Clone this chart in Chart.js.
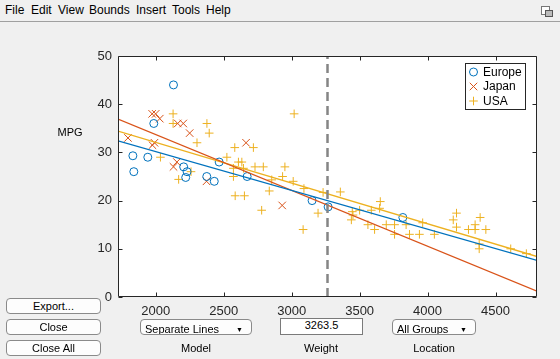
<!DOCTYPE html>
<html>
<head>
<meta charset="utf-8">
<script src="https://cdn.jsdelivr.net/npm/chart.js@4.4.1/dist/chart.umd.min.js"></script>
<style>
    body { margin: 0; width: 560px; height: 359px; overflow: hidden; position: relative;
        background: #f0f0f0; font-family: "Liberation Sans", Arial, sans-serif; color: #000; }
    #menu { position: absolute; left: 0; top: 0; width: 560px; height: 21px; border-bottom: 1px solid #a0a0a0; font-size: 12px; }
    #menu span { position: absolute; top: 3px; }
    #icon { position: absolute; left: 541px; top: 6px; width: 7px; height: 7px; border: 1px solid #777; background: #fff; }
    #icon2 { position: absolute; left: 545px; top: 10px; width: 6px; height: 5px; border: 1px solid #555; background: #bbb; }
    #plot { position: absolute; left: 0; top: 0; width: 560px; height: 359px; }
    .lbl { position: absolute; font-size: 11px; text-align: center; }
    .btn { position: absolute; box-sizing: border-box; border: 1px solid #8a8a8a; border-radius: 4px;
        background: #fdfdfd; font-size: 11px; text-align: center; line-height: 14px; }
    .pop { position: absolute; box-sizing: border-box; border: 1px solid #8a8a8a; border-radius: 4px;
        background: #fdfdfd; font-size: 11px; line-height: 19px; padding-left: 4px; overflow: hidden; }
    .pop i { position: absolute; right: 8px; top: 0; font-style: normal; font-size: 7px; }
    .edit { position: absolute; box-sizing: border-box; border: 1px solid #7a7a7a; background: #fff;
        font-size: 11px; text-align: center; line-height: 13px; }
</style>
</head>
<body>
<div id="menu">
    <span style="left:5px">File</span>
    <span style="left:31px">Edit</span>
    <span style="left:58px">View</span>
    <span style="left:89px">Bounds</span>
    <span style="left:136px">Insert</span>
    <span style="left:172px">Tools</span>
    <span style="left:206px">Help</span>
    <div id="icon"></div><div id="icon2"></div>
</div>
<div id="plot"><canvas id="aocChart"></canvas></div>
<div class="lbl" style="left:50px;top:126px;width:40px">MPG</div>

<div class="btn" style="left:6px;top:298px;width:95px;height:16px">Export...</div>
<div class="btn" style="left:6px;top:319px;width:95px;height:16px">Close</div>
<div class="btn" style="left:6px;top:340px;width:95px;height:16px">Close All</div>

<div class="pop" style="left:140px;top:319px;width:112px;height:16px">Separate Lines<i>&#9660;</i></div>
<div class="edit" style="left:280px;top:318px;width:83px;height:17px">3263.5</div>
<div class="pop" style="left:392px;top:319px;width:84px;height:16px">All Groups<i>&#9660;</i></div>

<div class="lbl" style="left:166px;top:342px;width:60px">Model</div>
<div class="lbl" style="left:291px;top:342px;width:60px">Weight</div>
<div class="lbl" style="left:404px;top:342px;width:60px">Location</div>

<script>
    // данные
    const groupNames = ['Europe', 'Japan', 'USA'];
    const groupColors = ['#0072BD', '#D95319', '#EDB120'];

    const europeWeight = [2130, 1985, 1831, 1941, 1838, 2205, 2230, 2220, 2375, 2430, 2466, 2672, 3150, 3268, 3818];
    const europeMPG = [44, 36, 29.3, 29, 26, 27, 26, 24.8, 25, 24, 28, 25, 20, 18.7, 16.5];

    const japanWeight = [1795, 1975, 1990, 1973, 1999, 2029, 2161, 2202, 2249, 2664, 2130, 2155, 2373, 2930];
    const japanMPG = [33, 31.5, 32, 38, 38, 37, 36, 36, 34, 32, 27, 28, 24, 19];

    const usaWeight = [2127, 2127, 2376, 2393, 2303, 2581, 2718, 3018, 2034, 2168, 2259, 2523, 2608, 2633,
        2571, 2645, 2730, 2791, 2950, 2571, 2853, 2933, 3011, 2835, 3090, 3231, 2584, 2652, 2779, 3084,
        3194, 3358, 3652, 3446, 3500, 3439, 3451, 3586, 3647, 3561, 3610, 3696, 3757, 3757, 3842, 3867,
        3940, 3964, 4050, 4213, 4189, 4213, 4301, 4350, 4350, 4387, 4429, 4380, 4380, 4612, 4727];
    const usaMPG = [38, 36, 36, 34, 32, 31, 31, 38, 29, 24.4, 26, 29, 28, 28,
        26.7, 26.7, 27, 27, 27, 25, 24.3, 25, 24, 22, 22.5, 21.7, 21, 21, 18, 14,
        17.4, 21.8, 19.8, 17.7, 18, 16, 17, 18, 18.4, 15, 14, 15, 15, 13, 15, 13,
        13, 15.4, 13, 17.4, 16, 14.5, 14, 15, 14, 16.5, 14, 11, 10, 10, 9];

    // подогнанные прямые: MPG на краях оси Weight
    const weightLimits = [1721.6, 4805.4];
    const europeFit = [32.4, 7.6];
    const japanFit = [36.9, 1.2];
    const usaFit = [34.4, 8.4];

    const refWeight = 3263.5;
    const mpgLimits = [0, 50];
    const xTicks = [2000, 2500, 3000, 3500, 4000, 4500];
    const yTicks = [0, 10, 20, 30, 40, 50];

    const toPoints = (xs, ys) => xs.map((x, i) => ({x: x, y: ys[i]}));

    const tickColor = '#262626';

    // рамка осей и внутренние засечки
    const axesFrame = {
        id: 'axesFrame',
        afterDatasetsDraw(chart) {
            const {ctx, chartArea: a, scales: {x, y}} = chart;
            const l = Math.round(a.left) + 0.5, r = Math.round(a.right) - 0.5;
            const t = Math.round(a.top) + 0.5, b = Math.round(a.bottom) - 0.5;
            ctx.save();
            ctx.strokeStyle = tickColor;
            ctx.lineWidth = 1;
            ctx.beginPath();
            ctx.rect(l, t, r - l, b - t);
            xTicks.forEach(v => {
                const px = Math.round(x.getPixelForValue(v)) + 0.5;
                ctx.moveTo(px, b); ctx.lineTo(px, b - 4);
                ctx.moveTo(px, t); ctx.lineTo(px, t + 4);
            });
            yTicks.forEach(v => {
                const py = Math.round(y.getPixelForValue(v)) + 0.5;
                ctx.moveTo(l, py); ctx.lineTo(l + 4, py);
                ctx.moveTo(r, py); ctx.lineTo(r - 4, py);
            });
            ctx.stroke();
            ctx.restore();
        }
    };

    // легенда внутри области графика
    const legendInside = {
        id: 'legendInside',
        afterDraw(chart) {
            const {ctx, chartArea: a} = chart;
            const sets = chart.data.datasets.filter(d => d.inLegend);
            const w = 60, h = 46, rowH = 14.5;
            const x0 = Math.round(a.right - 12 - w), y0 = Math.round(a.top + 7);
            ctx.save();
            ctx.fillStyle = '#fff';
            ctx.fillRect(x0, y0, w, h);
            ctx.strokeStyle = tickColor;
            ctx.lineWidth = 1;
            ctx.strokeRect(x0 + 0.5, y0 + 0.5, w, h);
            ctx.font = '12px "Liberation Sans", Arial, sans-serif';
            ctx.textBaseline = 'middle';
            sets.forEach((ds, i) => {
                const cy = y0 + 9 + i * rowH;
                ctx.strokeStyle = ds.borderColor;
                ctx.fillStyle = 'rgba(0,0,0,0)';
                ctx.lineWidth = ds.pointBorderWidth;
                Chart.helpers.drawPoint(ctx, {
                    pointStyle: ds.pointStyle,
                    radius: ds.pointRadius,
                    borderWidth: ds.pointBorderWidth,
                    rotation: 0
                }, x0 + 8.5, cy);
                ctx.fillStyle = '#000';
                ctx.fillText(ds.label, x0 + 18, cy + 0.5);
            });
            ctx.restore();
        }
    };

    const pointStyles = ['circle', 'crossRot', 'cross'];
    const pointSizes = [4, 5.3, 4.3];
    const scatterData = [
        toPoints(europeWeight, europeMPG),
        toPoints(japanWeight, japanMPG),
        toPoints(usaWeight, usaMPG)
    ];
    const fits = [europeFit, japanFit, usaFit];

    const datasets = [];
    groupNames.forEach((name, i) => {
        datasets.push({
            label: name,
            inLegend: true,
            data: scatterData[i],
            showLine: false,
            pointStyle: pointStyles[i],
            pointRadius: pointSizes[i],
            pointHoverRadius: pointSizes[i],
            pointBorderWidth: 1,
            borderColor: groupColors[i],
            backgroundColor: 'rgba(0,0,0,0)',
            order: 5
        });
    });
    groupNames.forEach((name, i) => {
        datasets.push({
            label: name + ' fit',
            data: toPoints(weightLimits, fits[i]),
            showLine: true,
            pointRadius: 0,
            borderWidth: 1.3,
            borderColor: groupColors[i],
            order: 3
        });
    });
    datasets.push({
        label: 'Weight',
        data: toPoints([refWeight, refWeight], mpgLimits),
        showLine: true,
        pointRadius: 0,
        borderWidth: 2.5,
        borderColor: '#858585',
        borderDash: [9, 5],
        order: 1
    });

    Chart.defaults.font.family = '"Liberation Sans", Arial, sans-serif';
    Chart.defaults.font.size = 13;
    Chart.defaults.color = tickColor;

    new Chart(document.getElementById('aocChart'), {
        type: 'scatter',
        data: {datasets},
        options: {
            responsive: true,
            maintainAspectRatio: false,
            animation: false,
            events: [],
            layout: {padding: {left: 0, top: 56, right: 23, bottom: 0}},
            plugins: {legend: {display: false}, tooltip: {enabled: false}},
            scales: {
                x: {
                    type: 'linear',
                    min: weightLimits[0],
                    max: weightLimits[1],
                    afterBuildTicks: s => { s.ticks = xTicks.map(v => ({value: v})); },
                    afterFit: s => { s.height = 62; },
                    grid: {display: false, drawTicks: false},
                    border: {display: false},
                    ticks: {padding: 7, maxRotation: 0, callback: v => String(v)}
                },
                y: {
                    min: mpgLimits[0],
                    max: mpgLimits[1],
                    afterBuildTicks: s => { s.ticks = yTicks.map(v => ({value: v})); },
                    afterFit: s => { s.width = 118; },
                    grid: {display: false, drawTicks: false},
                    border: {display: false},
                    ticks: {padding: 6, callback: v => String(v)}
                }
            }
        },
        plugins: [{
            id: 'whiteArea',
            beforeDraw(chart) {
                const {ctx, chartArea: a} = chart;
                ctx.save();
                ctx.fillStyle = '#fff';
                ctx.fillRect(a.left, a.top, a.right - a.left, a.bottom - a.top);
                ctx.restore();
            }
        }, axesFrame, legendInside]
    });
</script>
</body>
</html>
